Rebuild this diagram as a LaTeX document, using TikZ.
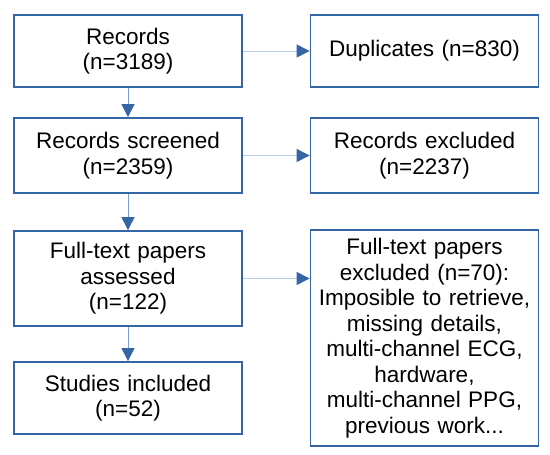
\documentclass[tikz,border=0pt]{standalone}
\usepackage{fontspec}
\setmainfont{Liberation Sans}
\usetikzlibrary{arrows.meta}
\definecolor{boxblue}{RGB}{52,101,164}
\definecolor{vlink}{RGB}{125,160,210}
\definecolor{hlink}{RGB}{185,204,233}
\tikzset{
  stage/.style={draw=boxblue,line width=1.8pt,inner sep=0pt,align=center,
    text width=220pt,minimum width=228pt},
  link/.style={draw=vlink,line width=1pt,-{Triangle[length=13pt,width=13pt,fill=boxblue,color=boxblue]}},
  sidelink/.style={link,draw=hlink}
}
\begin{document}
\begin{tikzpicture}[x=1pt,y=-1pt,font=\fontsize{22.5}{25.5}\selectfont]
\useasboundingbox (0,0) rectangle (550,455);
% left column
\node[stage,minimum height=72pt] (rec) at (128,51) {Records\\(n=3189)};
\node[stage,minimum height=75pt] (scr) at (128,155.5) {Records screened\\(n=2359)};
\node[stage,minimum height=95pt] (ass) at (128,278.5) {Full-text papers\\assessed\\(n=122)};
\node[stage,minimum height=72pt] (inc) at (128,398) {Studies included\\(n=52)};
% right column
\node[stage,minimum height=72pt] (dup) at (424.5,51) {Duplicates (n=830)};
\node[stage,minimum height=75pt] (exc) at (424.5,155.5) {Records excluded\\(n=2237)};
\node[stage,minimum height=216pt] (ftx) at (424.5,338) {Full-text papers\\excluded (n=70):\\Imposible to retrieve,\\missing details,\\multi-channel ECG,\\hardware,\\multi-channel PPG,\\previous work...};
% connectors
\draw[link] (rec) -- (scr);
\draw[link] (scr) -- (ass);
\draw[link] (ass) -- (inc);
\draw[sidelink] (rec) -- (dup);
\draw[sidelink] (scr) -- (exc);
\draw[sidelink] (ass.east) -- (ass.east -| ftx.west);
\end{tikzpicture}
\end{document}
